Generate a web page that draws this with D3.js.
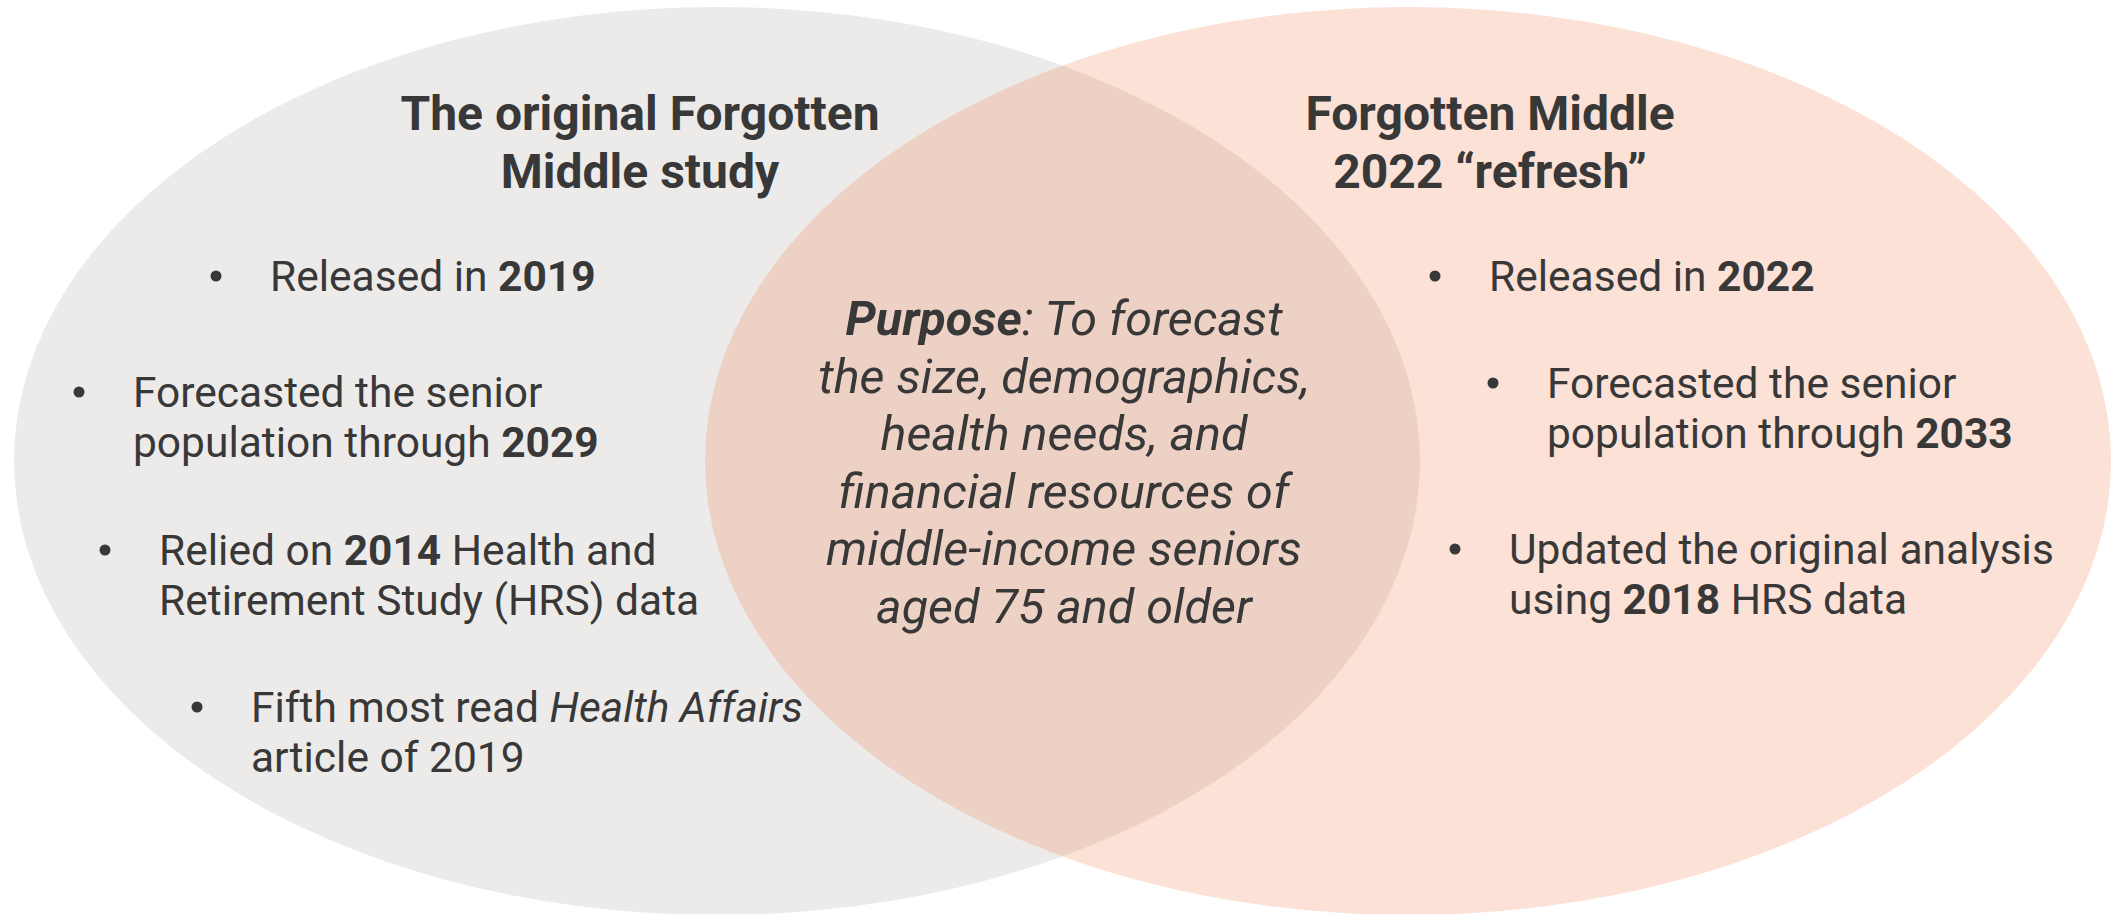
<!DOCTYPE html>
<html>
<head>
<meta charset="utf-8">
<script src="https://cdn.jsdelivr.net/npm/d3@7"></script>
<style>
  html, body { margin: 0; padding: 0; background: #fff; }
  svg { display: block; font-family: Roboto, "Noto Sans", sans-serif; }
</style>
</head>
<body>
<div id="chart"></div>
<script>
// Two overlapping sets
const sets = ["original", "refresh"];
const setTitles = [
    ["The original Forgotten", "Middle study"],
    ["Forgotten Middle", "2022 \u201crefresh\u201d"]
];
const setColors = ["#edebea", "rgba(237,119,69,0.22)"];

// Bullet text, each line is a list of [text, style] runs
const leftBullets = [
    [[["Released in ", "n"], ["2019", "b"]]],
    [[["Forecasted the senior", "n"]], [["population through ", "n"], ["2029", "b"]]],
    [[["Relied on ", "n"], ["2014", "b"], [" Health and", "n"]], [["Retirement Study (HRS) data", "n"]]],
    [[["Fifth most read ", "n"], ["Health Affairs", "i"]], [["article of 2019", "n"]]]
];
const rightBullets = [
    [[["Released in ", "n"], ["2022", "b"]]],
    [[["Forecasted the senior", "n"]], [["population through ", "n"], ["2033", "b"]]],
    [[["Updated the original analysis", "n"]], [["using ", "n"], ["2018", "b"], [" HRS data", "n"]]]
];
const purposeLines = [
    [["Purpose", "bi"], [": To forecast", "i"]],
    [["the size, demographics,", "i"]],
    [["health needs, and", "i"]],
    [["financial resources of", "i"]],
    [["middle-income seniors", "i"]],
    [["aged 75 and older", "i"]]
];

const width = 2112, height = 914;
const textColor = "#383838";

// layout (pixels)
const ellipseX = d3.scaleOrdinal().domain(sets).range([717, 1408]);
const ellipseRx = 703, ellipseRy = 454, ellipseCy = 461;
const titleX = d3.scaleOrdinal().domain(sets).range([640, 1490]);
const leftBulletX = [216, 79, 105, 197];
const leftBulletY = [291, 407, 565, 722];
const rightBulletX = [1435, 1493, 1455];
const rightBulletY = [291, 398, 564];
const bulletGap = 54;
const lineH = 50;

const svg = d3.select("#chart").append("svg")
    .attr("width", width)
    .attr("height", height);

svg.selectAll("ellipse")
    .data(sets)
    .enter()
    .append("ellipse")
    .attr("cx", d => ellipseX(d))
    .attr("cy", ellipseCy)
    .attr("rx", ellipseRx)
    .attr("ry", ellipseRy)
    .attr("fill", (d, i) => setColors[i]);

// style runs -> tspans
function addRuns(text, runs) {
    runs.forEach(r => {
        text.append("tspan")
            .attr("font-weight", r[1].includes("b") ? 700 : 400)
            .attr("font-style", r[1].includes("i") ? "italic" : "normal")
            .text(r[0]);
    });
}

// titles
sets.forEach((s, i) => {
    setTitles[i].forEach((line, j) => {
        svg.append("text")
            .attr("x", titleX(s))
            .attr("y", 130 + j * 58)
            .attr("text-anchor", "middle")
            .attr("font-size", 48)
            .attr("font-weight", 700)
            .attr("fill", textColor)
            .text(line);
    });
});

function drawBullets(items, xs, ys) {
    items.forEach((lines, i) => {
        // bullet dot
        svg.append("circle")
            .attr("cx", xs[i])
            .attr("cy", ys[i] - 15)
            .attr("r", 5.5)
            .attr("fill", textColor);
        lines.forEach((runs, j) => {
            const t = svg.append("text")
                .attr("x", xs[i] + bulletGap)
                .attr("y", ys[i] + j * lineH)
                .attr("font-size", 42.5)
                .attr("fill", textColor);
            addRuns(t, runs);
        });
    });
}
drawBullets(leftBullets, leftBulletX, leftBulletY);
drawBullets(rightBullets, rightBulletX, rightBulletY);

// overlap text
purposeLines.forEach((runs, j) => {
    const t = svg.append("text")
        .attr("x", 1064)
        .attr("y", 335 + j * 57.6)
        .attr("text-anchor", "middle")
        .attr("font-size", 48.5)
        .attr("fill", textColor);
    addRuns(t, runs);
});
</script>
</body>
</html>
